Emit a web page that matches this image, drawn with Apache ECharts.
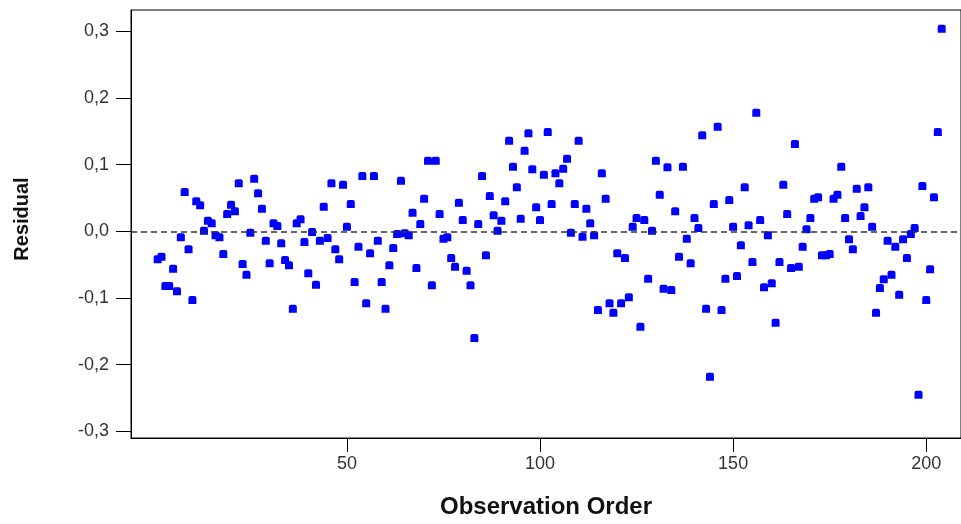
<!DOCTYPE html>
<html>
<head>
<meta charset="utf-8">
<script src="https://cdn.jsdelivr.net/npm/echarts@6/dist/echarts.min.js"></script>
<style>
html,body{margin:0;padding:0;background:#fff;}
#chart{width:961px;height:524px;}
</style>
</head>
<body>
<div id="chart"></div>
<script>
// Residuals in observation order (obs 1..204)
const residuals = [
 -0.042,-0.038,-0.082,-0.082,-0.056,-0.090,-0.009,0.059,-0.027,-0.103,
 0.045,0.039,0.001,0.016,0.012,-0.006,-0.009,-0.034,0.026,0.040,
 0.030,0.072,-0.049,-0.065,-0.002,0.079,0.057,0.034,-0.014,-0.048,
 0.012,0.008,-0.018,-0.043,-0.051,-0.116,0.012,0.018,-0.016,-0.063,
 -0.001,-0.080,-0.014,0.037,-0.010,0.072,-0.027,-0.042,0.070,0.007,
 0.041,-0.076,-0.023,0.083,-0.108,-0.033,0.083,-0.014,-0.076,-0.116,
 -0.051,-0.025,-0.004,0.076,-0.003,-0.006,0.028,-0.055,0.011,0.049,
 0.106,-0.081,0.106,0.026,-0.011,-0.009,-0.040,-0.053,0.043,0.017,
 -0.059,-0.081,-0.160,0.011,0.083,-0.036,0.053,0.024,0.001,0.016,
 0.045,0.136,0.097,0.066,0.019,0.121,0.147,0.093,0.036,0.017,
 0.085,0.149,0.041,0.087,0.072,0.094,0.109,-0.002,0.041,0.136,
 -0.008,0.034,0.012,-0.006,-0.118,0.087,0.049,-0.108,-0.122,-0.033,
 -0.108,-0.040,-0.099,0.007,0.020,-0.143,0.017,-0.071,0.001,0.106,
 0.055,-0.086,0.096,-0.088,0.030,-0.038,0.097,-0.011,-0.048,0.020,
 0.005,0.144,-0.116,-0.218,0.041,0.157,-0.118,-0.071,0.047,0.007,
 -0.067,-0.021,0.066,0.009,-0.046,0.178,0.017,-0.084,-0.006,-0.078,
 -0.137,-0.046,0.070,0.026,-0.055,0.131,-0.053,-0.023,0.003,0.020,
 0.049,0.051,-0.036,-0.036,-0.034,0.049,0.055,0.097,0.020,-0.012,
 -0.027,0.064,0.023,0.036,0.066,0.007,-0.122,-0.085,-0.072,-0.014,
 -0.065,-0.023,-0.095,-0.012,-0.040,-0.004,0.005,-0.245,0.068,-0.103,
 -0.057,0.051,0.149,0.304
];
const xTicks = [50, 100, 150, 200];
const yTicks = [-0.3, -0.2, -0.1, 0.0, 0.1, 0.2, 0.3];
const xTitle = 'Observation Order';
const yTitle = 'Residual';

const points = residuals.map((v, i) => [i + 1, v]);
const fmt = v => v.toFixed(1).replace('.', ',');

const chart = echarts.init(document.getElementById('chart'), null, {renderer: 'canvas'});
chart.setOption({
  animation: false,
  backgroundColor: '#fff',
  grid: {left: 131, right: -2, top: 10, bottom: 80, show: true, borderColor: '#000', borderWidth: 1},
  xAxis: {
    type: 'value', min: -5.9, max: 209.0,
    name: xTitle, nameLocation: 'middle', nameGap: 57,
    nameTextStyle: {fontFamily: 'Liberation Sans', fontSize: 24, fontWeight: 'bold', color: '#111'},
    axisLine: {show: true, onZero: false, lineStyle: {color: '#000', width: 1}},
    axisTick: {show: true, length: 14, customValues: xTicks, lineStyle: {color: '#000'}},
    axisLabel: {customValues: xTicks, margin: 17, fontFamily: 'Liberation Sans', fontSize: 18, color: '#333'},
    splitLine: {show: false}
  },
  yAxis: {
    type: 'value', min: -0.31, max: 0.332,
    name: yTitle, nameLocation: 'middle', nameGap: 99, nameRotate: 90,
    nameTextStyle: {fontFamily: 'Liberation Sans', fontSize: 20, fontWeight: 'bold', color: '#111', padding: [0, 0, 0, 10]},
    axisLine: {show: true, onZero: false, lineStyle: {color: '#000', width: 1}},
    axisTick: {show: true, length: 15, customValues: yTicks, lineStyle: {color: '#000'}},
    axisLabel: {customValues: yTicks, margin: 22, formatter: fmt, fontFamily: 'Liberation Sans', fontSize: 18, color: '#333'},
    splitLine: {show: false}
  },
  series: [{
    type: 'scatter',
    data: points,
    symbol: 'path://M0,2 Q0,0 2,0 L6,0 Q8,0 8,2 L8,8 L0,8 Z',
    symbolSize: 8,
    itemStyle: {color: '#0000ff', opacity: 1},
    markLine: {
      silent: true, symbol: 'none', label: {show: false},
      lineStyle: {color: '#333', type: [6, 4], width: 1.5},
      data: [{yAxis: 0}]
    }
  }]
});
</script>
</body>
</html>
